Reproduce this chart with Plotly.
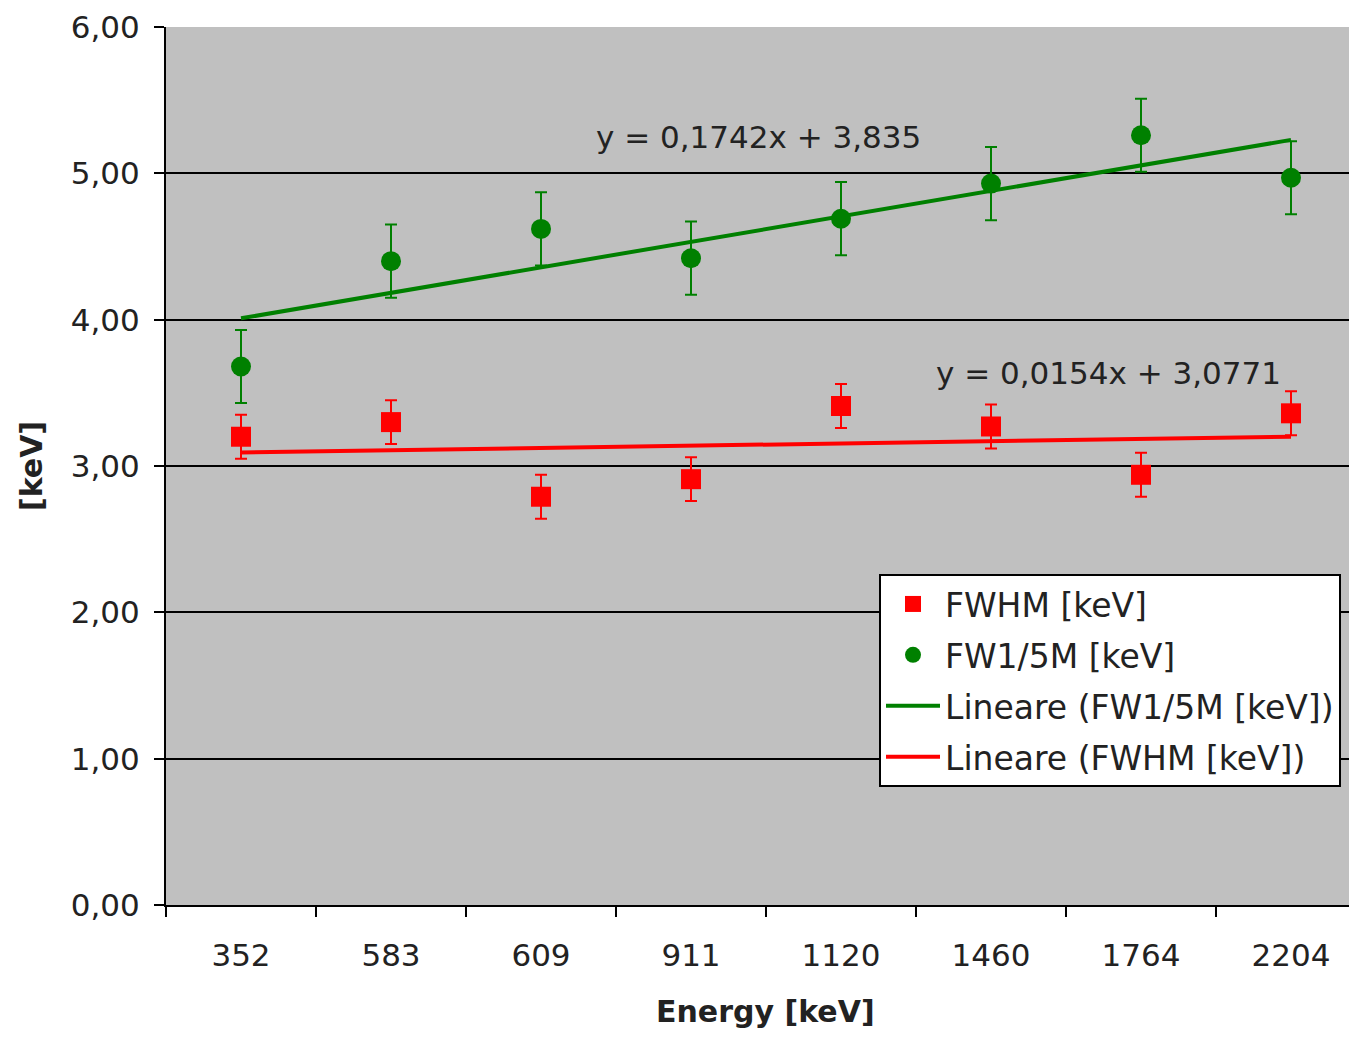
import plotly.graph_objects as go

# ---- data ----
categories = ["352", "583", "609", "911", "1120", "1460", "1764", "2204"]
fwhm = [3.20, 3.30, 2.79, 2.91, 3.41, 3.27, 2.94, 3.36]
fwhm_err = [0.15, 0.15, 0.15, 0.15, 0.15, 0.15, 0.15, 0.15]
fw15 = [3.68, 4.40, 4.62, 4.42, 4.69, 4.93, 5.26, 4.97]
fw15_err = [0.25, 0.25, 0.25, 0.25, 0.25, 0.25, 0.25, 0.25]
# linear trend coefficients (as printed on the chart, x = 1..8)
fw15_slope, fw15_icpt = 0.1742, 3.835
fwhm_slope, fwhm_icpt = 0.0154, 3.0771
y_ticks = [0, 1, 2, 3, 4, 5, 6]

GREEN = "#008000"
RED = "#FF0000"
FONT = "DejaVu Sans"

xi = list(range(len(categories)))
fw15_trend = [fw15_slope * (i + 1) + fw15_icpt for i in xi]
fwhm_trend = [fwhm_slope * (i + 1) + fwhm_icpt for i in xi]

fig = go.Figure()
fig.add_trace(go.Scatter(
    x=xi, y=fwhm, mode="markers", name="FWHM [keV]",
    marker=dict(symbol="square", size=20, color=RED),
    error_y=dict(type="data", array=fwhm_err, color=RED, thickness=2, width=6),
    legendgroup="a", legendrank=1))
fig.add_trace(go.Scatter(
    x=xi, y=fw15, mode="markers", name="FW1/5M [keV]",
    marker=dict(symbol="circle", size=20, color=GREEN),
    error_y=dict(type="data", array=fw15_err, color=GREEN, thickness=2, width=6),
    legendgroup="b", legendrank=2))
fig.add_trace(go.Scatter(
    x=[xi[0], xi[-1]], y=[fw15_trend[0], fw15_trend[-1]], mode="lines",
    name="Lineare (FW1/5M [keV])", line=dict(color=GREEN, width=4),
    legendgroup="c", legendrank=3))
fig.add_trace(go.Scatter(
    x=[xi[0], xi[-1]], y=[fwhm_trend[0], fwhm_trend[-1]], mode="lines",
    name="Lineare (FWHM [keV])", line=dict(color=RED, width=4),
    legendgroup="d", legendrank=4))

fig.add_annotation(x=3.45, y=5.25, xref="x", yref="y",
                   text="y = 0,1742x + 3,835", showarrow=False,
                   font=dict(family=FONT, size=31, color="#222222"))
fig.add_annotation(x=5.78, y=3.635, xref="x", yref="y",
                   text="y = 0,0154x + 3,0771", showarrow=False,
                   font=dict(family=FONT, size=31, color="#222222"))

W, H = 1341, 1021
ML, MT, MB = 158, 19, 124
plot_w = W - ML
plot_h = H - MT - MB

# x-axis title placed as a paper annotation (centred on the full category span)
fig.add_annotation(x=(757 - ML) / plot_w, y=(897 - 1003) / plot_h,
                   xref="paper", yref="paper", xanchor="center", yanchor="middle",
                   text="<b>Energy [keV]</b>", showarrow=False,
                   font=dict(family=FONT, size=30, color="#222222"))

fig.update_layout(
    width=W, height=H,
    margin=dict(l=ML, r=0, t=MT, b=MB, pad=0),
    paper_bgcolor="white", plot_bgcolor="#C0C0C0",
    separators=",.",
    font=dict(family=FONT, size=31, color="#222222"),
    showlegend=True,
    legend=dict(x=(879 - 8 - ML) / plot_w, y=(905 - 574) / plot_h,
                xanchor="left", yanchor="top",
                bgcolor="white", bordercolor="black", borderwidth=2,
                font=dict(family=FONT, size=33, color="#222222"),
                itemwidth=54,
                traceorder="grouped", tracegroupgap=5),
    xaxis=dict(
        range=[-0.5, -0.5 + plot_w / 150.0],
        tickmode="array", tickvals=xi, ticktext=categories,
        ticks="", showgrid=False, zeroline=False,
        showline=True, linecolor="black", linewidth=2,
        ticklabelstandoff=22, automargin=False,
        minor=dict(tickmode="linear", tick0=-0.5, dtick=1, ticks="outside",
                   ticklen=10, tickwidth=2, tickcolor="black", showgrid=False),
        fixedrange=True),
    yaxis=dict(
        range=[0, 6], tickmode="array", tickvals=y_ticks, tickformat=".2f",
        ticks="outside", ticklen=10, tickwidth=2, tickcolor="black",
        showgrid=False, zeroline=False,
        showline=True, linecolor="black", linewidth=2,
        ticklabelstandoff=8, automargin=False,
        minor=dict(tickmode="array", tickvals=[1, 2, 3, 4, 5], showgrid=True,
                   gridcolor="black", gridwidth=2, ticks=""),
        title=dict(text="<b>[keV]</b>", standoff=19,
                   font=dict(family=FONT, size=30, color="#222222")),
        fixedrange=True),
)

fig.write_html("out.html")
